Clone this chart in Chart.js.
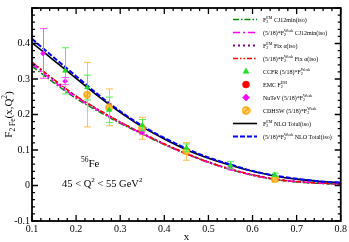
<!DOCTYPE html>
<html>
<head>
<meta charset="utf-8">
<script src="https://cdn.jsdelivr.net/npm/chart.js@4.4.1/dist/chart.umd.min.js"></script>
<style>
html, body { margin: 0; padding: 0; background: #fff; }
#wrap { position: relative; width: 349px; height: 242px; }
</style>
</head>
<body>
<div id="wrap"><canvas id="myChart"></canvas></div>
<script>
// theory curves, sampled in x
const xs = [0.1, 0.15, 0.2, 0.25, 0.3, 0.35, 0.4, 0.45, 0.5, 0.55, 0.6, 0.65, 0.7, 0.75, 0.8];
const nloEm    = [0.402, 0.352, 0.302, 0.252, 0.206, 0.165, 0.131, 0.101, 0.077, 0.057, 0.040, 0.027, 0.018, 0.012, 0.008];
const nloWeak  = [0.413, 0.360, 0.308, 0.256, 0.209, 0.168, 0.134, 0.104, 0.079, 0.059, 0.041, 0.028, 0.019, 0.012, 0.008];
const fixWeak  = [0.348, 0.298, 0.252, 0.214, 0.179, 0.147, 0.117, 0.090, 0.066, 0.046, 0.030, 0.018, 0.011, 0.007, 0.004];
const fixEm    = [0.346, 0.297, 0.251, 0.213, 0.178, 0.147, 0.117, 0.090, 0.066, 0.046, 0.030, 0.018, 0.011, 0.007, 0.004];
const cj12Weak = [0.342, 0.293, 0.248, 0.212, 0.177, 0.146, 0.116, 0.089, 0.065, 0.045, 0.029, 0.018, 0.011, 0.007, 0.004];
const cj12Em   = [0.336, 0.289, 0.245, 0.209, 0.175, 0.145, 0.115, 0.089, 0.065, 0.045, 0.029, 0.017, 0.010, 0.006, 0.004];

// experimental points
const ccfrX   = [0.175, 0.225, 0.275, 0.35, 0.45, 0.55, 0.65];
const ccfrY   = [0.323, 0.276, 0.213, 0.170, 0.106, 0.057, 0.030];
const ccfrErr = [0.065, 0.035, 0.036, 0.016, 0.011, 0.010, 0.005];

const emcX   = [];
const emcY   = [];
const emcErr = [];

const nutevX   = [0.125, 0.175, 0.35, 0.55];
const nutevY   = [0.372, 0.294, 0.150, 0.048];
const nutevErr = [0.070, 0.010, 0.006, 0.004];

const cdhswX   = [0.225, 0.275, 0.35, 0.45, 0.65];
const cdhswY   = [0.256, 0.220, 0.161, 0.096, 0.017];
const cdhswErr = [0.091, 0.052, 0.031, 0.025, 0.005];

const xTicks = [0.1, 0.2, 0.3, 0.4, 0.5, 0.6, 0.7, 0.8];
const yTicks = [-0.1, 0, 0.1, 0.2, 0.3, 0.4];

const SERIF = '"Liberation Serif", "DejaVu Serif", serif';

function pts(xv, yv) {
    return xv.map((x, i) => ({ x: x, y: yv[i] }));
}

// orange ring with a slash, for CDHSW
function slashCircle(size) {
    const c = document.createElement('canvas');
    c.width = size; c.height = size;
    const g = c.getContext('2d');
    const r = size / 2 - 1;
    g.fillStyle = '#ffd890';
    g.beginPath(); g.arc(size / 2, size / 2, r, 0, Math.PI * 2); g.fill();
    g.strokeStyle = '#ffa500';
    g.lineWidth = 1.5;
    g.stroke();
    g.beginPath();
    g.moveTo(size / 2 - r * 0.6, size / 2 + r * 0.6);
    g.lineTo(size / 2 + r * 0.6, size / 2 - r * 0.6);
    g.stroke();
    return c;
}
const cdhswImg = slashCircle(8);
const cdhswLegendImg = slashCircle(9);

function lineSet(label, xv, yv, color, dash, width) {
    return {
        label: label,
        data: pts(xv, yv),
        borderColor: color,
        backgroundColor: color,
        borderDash: dash,
        borderWidth: width,
        pointRadius: 0,
        fill: false,
        cubicInterpolationMode: 'monotone'
    };
}

function pointSet(label, xv, yv, err, color, style, radius) {
    return {
        label: label,
        data: pts(xv, yv),
        errBars: err,
        showLine: false,
        borderColor: color,
        backgroundColor: color,
        pointStyle: style,
        pointRadius: radius,
        pointBorderWidth: 0.5
    };
}

// legend entries with sub/superscripts
const legendParts = [
    [{t: 'F'}, {sub: '2', sup: 'EM'}, {t: ' CJ12min(iso)'}],
    [{t: '(5/18)*F'}, {sub: '2', sup: 'Weak'}, {t: ' CJ12min(iso)'}],
    [{t: 'F'}, {sub: '2', sup: 'EM'}, {t: ' Fix \u03b1(iso)'}],
    [{t: '(5/18)*F'}, {sub: '2', sup: 'Weak'}, {t: ' Fix \u03b1(iso)'}],
    [{t: 'CCFR (5/18)*F'}, {sub: '2', sup: 'Weak'}],
    [{t: 'EMC F'}, {sub: '2', sup: 'EM'}],
    [{t: 'NuTeV (5/18)*F'}, {sub: '2', sup: 'Weak'}],
    [{t: 'CDHSW (5/18)*F'}, {sub: '2', sup: 'Weak'}],
    [{t: 'F'}, {sub: '2', sup: 'EM'}, {t: ' NLO Total(iso)'}],
    [{t: '(5/18)*F'}, {sub: '2', sup: 'Weak'}, {t: ' NLO Total(iso)'}]
];

const dsCj12Em   = lineSet('F2 EM CJ12min(iso)', xs, cj12Em, '#008a00', [6, 2, 1.5, 2], 1.5);
const dsCj12Weak = lineSet('(5/18)*F2 Weak CJ12min(iso)', xs, cj12Weak, '#ff00ff', [7, 3, 2, 3], 1.5);
const dsFixEm    = lineSet('F2 EM Fix alpha(iso)', xs, fixEm, '#800080', [2, 3], 2);
const dsFixWeak  = lineSet('(5/18)*F2 Weak Fix alpha(iso)', xs, fixWeak, '#ff0000', [5, 2, 1.5, 2, 1.5, 2], 1.5);
const dsCcfr  = pointSet('CCFR (5/18)*F2 Weak', ccfrX, ccfrY, ccfrErr, '#22dd22', 'triangle', 3);
const dsEmc   = pointSet('EMC F2 EM', emcX, emcY, emcErr, '#ff0000', 'circle', 3);
const dsNutev = pointSet('NuTeV (5/18)*F2 Weak', nutevX, nutevY, nutevErr, '#ff00ff', 'rectRot', 2.5);
const dsCdhsw = pointSet('CDHSW (5/18)*F2 Weak', cdhswX, cdhswY, cdhswErr, '#ffa500', cdhswImg, 4);
dsCdhsw.errColor = '#ffc050';
dsCcfr.errColor = '#55ee55';
dsNutev.errColor = '#ff55ff';
const dsNloEm   = lineSet('F2 EM NLO Total(iso)', xs, nloEm, '#000000', [], 1.6);
const dsNloWeak = lineSet('(5/18)*F2 Weak NLO Total(iso)', xs, nloWeak, '#0000ff', [5, 2], 2);

const legendSets = [dsCj12Em, dsCj12Weak, dsFixEm, dsFixWeak, dsCcfr, dsEmc, dsNutev, dsCdhsw, dsNloEm, dsNloWeak];

function richWidth(ctx, parts, size) {
    let w = 0;
    for (const p of parts) {
        if (p.t) {
            ctx.font = size + 'px ' + SERIF;
            w += ctx.measureText(p.t).width;
        } else {
            ctx.font = (size * 0.68) + 'px ' + SERIF;
            w += Math.max(p.sub ? ctx.measureText(p.sub).width : 0, p.sup ? ctx.measureText(p.sup).width : 0);
        }
    }
    return w;
}

function drawRich(ctx, parts, x, y, size) {
    ctx.textBaseline = 'alphabetic';
    ctx.textAlign = 'left';
    for (const p of parts) {
        if (p.t) {
            ctx.font = size + 'px ' + SERIF;
            ctx.fillText(p.t, x, y);
            x += ctx.measureText(p.t).width;
        } else {
            ctx.font = (size * 0.68) + 'px ' + SERIF;
            let w = 0;
            if (p.sub) {
                ctx.fillText(p.sub, x, y + size * 0.28);
                w = ctx.measureText(p.sub).width;
            }
            if (p.sup) {
                ctx.fillText(p.sup, x, y - size * 0.45);
                w = Math.max(w, ctx.measureText(p.sup).width);
            }
            x += w;
        }
    }
    return x;
}

const errorBars = {
    id: 'errorBars',
    beforeDatasetDraw(chart, args) {
        const ds = chart.data.datasets[args.index];
        if (!ds.errBars) return;
        const ctx = chart.ctx;
        const xs_ = chart.scales.x, ys_ = chart.scales.y;
        ctx.save();
        ctx.strokeStyle = ds.errColor || ds.borderColor;
        ctx.lineWidth = 1;
        ds.data.forEach((p, i) => {
            const e = ds.errBars[i];
            const px = Math.round(xs_.getPixelForValue(p.x)) + 0.5;
            const top = ys_.getPixelForValue(p.y + e);
            const bot = ys_.getPixelForValue(p.y - e);
            ctx.beginPath();
            ctx.moveTo(px, top); ctx.lineTo(px, bot);
            ctx.moveTo(px - 3.5, top); ctx.lineTo(px + 3.5, top);
            ctx.moveTo(px - 3.5, bot); ctx.lineTo(px + 3.5, bot);
            ctx.stroke();
        });
        ctx.restore();
    }
};

const decorations = {
    id: 'decorations',
    afterDraw(chart) {
        const ctx = chart.ctx;
        const a = chart.chartArea;
        const sx = chart.scales.x, sy = chart.scales.y;
        ctx.save();
        // frame
        ctx.strokeStyle = '#000';
        ctx.lineWidth = 1.8;
        ctx.strokeRect(a.left, a.top, a.right - a.left, a.bottom - a.top);
        // inward ticks on all four sides
        ctx.lineWidth = 1.3;
        ctx.beginPath();
        for (let k = 0; k <= 35; k++) {
            const v = 0.1 + k * 0.02;
            const px = sx.getPixelForValue(v);
            const len = (k % 5 === 0) ? 6 : 3;
            ctx.moveTo(px, a.bottom); ctx.lineTo(px, a.bottom - len);
            ctx.moveTo(px, a.top); ctx.lineTo(px, a.top + len);
        }
        for (let k = 0; k <= 30; k++) {
            const v = -0.1 + k * 0.02;
            const py = sy.getPixelForValue(v);
            const len = (k % 5 === 0) ? 6 : 3;
            ctx.moveTo(a.left, py); ctx.lineTo(a.left + len, py);
            ctx.moveTo(a.right, py); ctx.lineTo(a.right - len, py);
        }
        ctx.stroke();

        ctx.fillStyle = '#000';
        // axis titles
        ctx.font = '11px ' + SERIF;
        ctx.textAlign = 'center';
        ctx.textBaseline = 'alphabetic';
        ctx.fillText('x', (a.left + a.right) / 2, 240);

        const yTitle = [{t: 'F'}, {sub: '2 Fe'}, {t: '(x,Q'}, {sup: '2'}, {t: ')'}];
        ctx.save();
        ctx.translate(12, (a.top + a.bottom) / 2);
        ctx.rotate(-Math.PI / 2);
        const tw = richWidth(ctx, yTitle, 11);
        drawRich(ctx, yTitle, -tw / 2, 0, 11);
        ctx.restore();

        // annotation
        drawRich(ctx, [{sup: '56'}, {t: 'Fe'}], 81, 167, 11);
        drawRich(ctx, [{t: '45 < Q'}, {sup: '2'}, {t: ' < 55 GeV'}, {sup: '2'}], 62, 187, 10.5);

        // legend
        legendSets.forEach((ds, i) => {
            const y = 19.5 + i * 13;
            const x0 = 233, x1 = 257;
            if (ds.showLine === false) {
                ctx.save();
                if (ds.pointStyle === cdhswImg) {
                    ctx.drawImage(cdhswLegendImg, 246 - 4.5, y - 4.5);
                } else {
                    ctx.fillStyle = ds.backgroundColor;
                    ctx.strokeStyle = ds.borderColor;
                    ctx.lineWidth = 0.5;
                    Chart.helpers.drawPoint(ctx, {
                        pointStyle: ds.pointStyle,
                        radius: 3.5,
                        rotation: 0,
                        borderWidth: 0.5
                    }, 246, y);
                }
                ctx.restore();
            } else {
                ctx.save();
                ctx.strokeStyle = ds.borderColor;
                ctx.lineWidth = ds.borderWidth;
                ctx.setLineDash(ds.borderDash);
                ctx.beginPath();
                ctx.moveTo(x0, y); ctx.lineTo(x1, y);
                ctx.stroke();
                ctx.restore();
            }
            ctx.fillStyle = '#000';
            drawRich(ctx, legendParts[i], 263, y + 2, 6);
        });
        ctx.restore();
    }
};

function fmt(v) {
    return String(Number(v.toFixed(1)));
}

const ctx = document.getElementById('myChart');
new Chart(ctx, {
    type: 'line',
    data: {
        datasets: [dsCcfr, dsEmc, dsNutev, dsCdhsw, dsNloWeak, dsNloEm, dsFixWeak, dsCj12Weak, dsFixEm, dsCj12Em]
    },
    options: {
        responsive: true,
        maintainAspectRatio: false,
        animation: false,
        layout: {
            padding: { top: 1, right: 6, left: 0, bottom: 0 }
        },
        plugins: {
            legend: { display: false },
            tooltip: { enabled: false }
        },
        scales: {
            x: {
                type: 'linear',
                min: 0.1,
                max: 0.8,
                afterBuildTicks: (scale) => { scale.ticks = xTicks.map(v => ({ value: v })); },
                afterFit: (scale) => { scale.height = 21; },
                grid: { display: false, drawTicks: false },
                border: { display: false },
                ticks: {
                    color: '#000',
                    padding: 2,
                    maxRotation: 0,
                    autoSkip: false,
                    font: { family: SERIF, size: 10 },
                    callback: (v) => fmt(v)
                }
            },
            y: {
                type: 'linear',
                min: -0.1,
                max: 0.5,
                afterBuildTicks: (scale) => { scale.ticks = yTicks.map(v => ({ value: v })); },
                afterFit: (scale) => { scale.width = 32; },
                grid: { display: false, drawTicks: false },
                border: { display: false },
                ticks: {
                    color: '#000',
                    padding: 2,
                    autoSkip: false,
                    font: { family: SERIF, size: 10 },
                    callback: (v) => fmt(v)
                }
            }
        }
    },
    plugins: [errorBars, decorations]
});
</script>
</body>
</html>
